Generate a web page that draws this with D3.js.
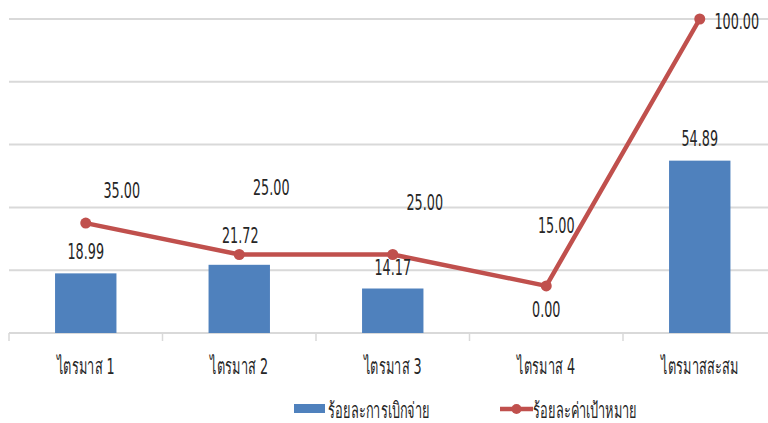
<!DOCTYPE html>
<html><head><meta charset="utf-8">
<script src="https://cdn.jsdelivr.net/npm/d3@7"></script>
<style>
html,body{margin:0;padding:0;background:#fff;}
text{font-family:"DejaVu Sans","Noto Sans",sans-serif;fill:#262626;}
</style></head>
<body><svg id="c" width="768" height="423"></svg>
<script>
const categories = ["ไตรมาส 1","ไตรมาส 2","ไตรมาส 3","ไตรมาส 4","ไตรมาสสะสม"];
const disbursed = [18.99, 21.72, 14.17, 0.00, 54.89];
const target = [35.00, 25.00, 25.00, 15.00, 100.00];
const seriesNames = ["ร้อยละการเบิกจ่าย","ร้อยละค่าเป้าหมาย"];
const yTicks = [0,20,40,60,80,100];

// label offsets (px) relative to anchor points
const lineLabelOffsets = [[36,-25],[32,-60],[32,-45],[10,-53],[37,10]];
const barLabelOffsets = [[0,-14],[1,-22],[0,-14],[0,-16],[0,-15]];

const svg = d3.select("#c");
const x = d3.scaleBand().domain(categories).range([9,776.5]).paddingInner(0.6).paddingOuter(0.3);
const xp = d3.scalePoint().domain(categories).range([9,776.5]).padding(0.5);
const y = d3.scaleLinear().domain([0,100]).range([333,19]);
const SX = 0.58, FS = 22;

// grid
svg.append("g").selectAll("line").data(yTicks).join("line")
  .attr("x1",9).attr("x2",768).attr("y1",d=>y(d)).attr("y2",d=>y(d))
  .attr("stroke","#d9d9d9").attr("stroke-width",2);
// tick marks at band boundaries
const bw = (776.5-9)/categories.length;
svg.append("g").selectAll("line").data(d3.range(categories.length+1)).join("line")
  .attr("x1",i=>9+i*bw).attr("x2",i=>9+i*bw).attr("y1",y(0)).attr("y2",y(0)+8)
  .attr("stroke","#d9d9d9").attr("stroke-width",1.5);

// bars
svg.append("g").selectAll("rect").data(disbursed).join("rect")
  .attr("x",(d,i)=>x(categories[i])).attr("width",x.bandwidth())
  .attr("y",d=>y(d)).attr("height",d=>y(0)-y(d)).attr("fill","#4f81bd");

// line
const line = d3.line().x((d,i)=>xp(categories[i])).y(d=>y(d));
svg.append("path").datum(target).attr("d",line).attr("fill","none")
  .attr("stroke","#c0504d").attr("stroke-width",4.5).attr("stroke-linejoin","round");
svg.append("g").selectAll("circle").data(target).join("circle")
  .attr("cx",(d,i)=>xp(categories[i])).attr("cy",d=>y(d)).attr("r",5.5).attr("fill","#c0504d");

function sText(g, tx, ty, str, anchor){
  g.append("text").attr("transform",`translate(${tx},${ty}) scale(${SX},1)`)
    .attr("text-anchor",anchor||"middle").attr("font-size",FS).text(str);
}
const lab = svg.append("g");
disbursed.forEach((d,i)=>{
  sText(lab, xp(categories[i])+barLabelOffsets[i][0], y(d)+barLabelOffsets[i][1], d.toFixed(2));
});
target.forEach((d,i)=>{
  sText(lab, xp(categories[i])+lineLabelOffsets[i][0], y(d)+lineLabelOffsets[i][1], d.toFixed(2));
});
// category labels
categories.forEach((c,i)=>{ sText(lab, xp(c), 374, c); });

// legend
const lg = svg.append("g");
lg.append("rect").attr("x",294).attr("y",404).attr("width",31).attr("height",9).attr("fill","#4f81bd");
sText(lg, 328, 418, seriesNames[0], "start");
lg.append("line").attr("x1",500).attr("x2",533).attr("y1",409).attr("y2",409).attr("stroke","#c0504d").attr("stroke-width",4.5);
lg.append("circle").attr("cx",516.5).attr("cy",409).attr("r",5).attr("fill","#c0504d");
sText(lg, 533, 418, seriesNames[1], "start");
</script></body></html>
